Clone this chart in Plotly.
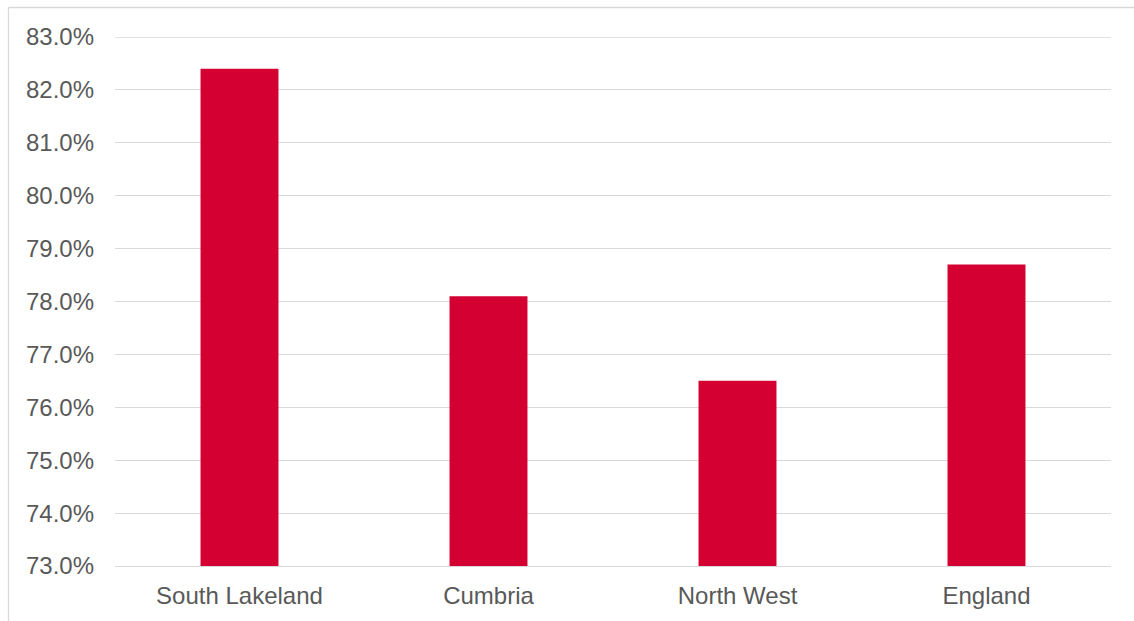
import plotly.graph_objects as go

# Regional values (share, as a fraction)
areas = ["South Lakeland", "Cumbria", "North West", "England"]
rates = [0.824, 0.781, 0.765, 0.787]

y_ticks = [0.73, 0.74, 0.75, 0.76, 0.77, 0.78, 0.79, 0.80, 0.81, 0.82, 0.83]

BAR_RED = "#D50032"
TEXT_GREY = "#595959"
GRID_GREY = "#D9D9D9"
FONT = "Liberation Sans, Arial, sans-serif"
FONT_SIZE = 24

W, H = 1134, 621
M_L, M_R, M_T, M_B = 115, 23, 37, 55
plot_w = W - M_L - M_R
plot_h = H - M_T - M_B

fig = go.Figure(
    go.Bar(
        x=areas,
        y=rates,
        marker=dict(color=BAR_RED, line=dict(width=0)),
        width=0.313,
        hoverinfo="x+y",
    )
)

# Chart-area frame (top and left edges visible)
bx = (8.5 - M_L) / plot_w
by = (H - M_B - 7.5) / plot_h
fig.add_shape(type="line", xref="paper", yref="paper",
              x0=bx, x1=1.2, y0=by, y1=by,
              line=dict(color=GRID_GREY, width=1.3))
fig.add_shape(type="line", xref="paper", yref="paper",
              x0=bx, x1=bx, y0=by, y1=-0.2,
              line=dict(color=GRID_GREY, width=1.3))

# Top gridline sits on the plot edge, so draw it explicitly
fig.add_hline(y=y_ticks[-1], line=dict(color=GRID_GREY, width=1.3), layer="below")

fig.update_layout(
    width=W,
    height=H,
    margin=dict(l=M_L, r=M_R, t=M_T, b=M_B, pad=0),
    paper_bgcolor="white",
    plot_bgcolor="white",
    showlegend=False,
    font=dict(family=FONT, size=FONT_SIZE, color=TEXT_GREY),
    xaxis=dict(
        showgrid=False,
        showline=True,
        linecolor=GRID_GREY,
        linewidth=1.3,
        ticks="",
        tickfont=dict(family=FONT, size=FONT_SIZE, color=TEXT_GREY),
        ticklabelstandoff=8,
    ),
    yaxis=dict(
        range=[y_ticks[0], y_ticks[-1]],
        tickvals=y_ticks,
        tickformat=".1%",
        showgrid=True,
        gridcolor=GRID_GREY,
        gridwidth=1.3,
        zeroline=False,
        showline=False,
        ticks="",
        tickfont=dict(family=FONT, size=FONT_SIZE, color=TEXT_GREY),
        ticklabelstandoff=20,
    ),
)

fig.write_html("out.html")
